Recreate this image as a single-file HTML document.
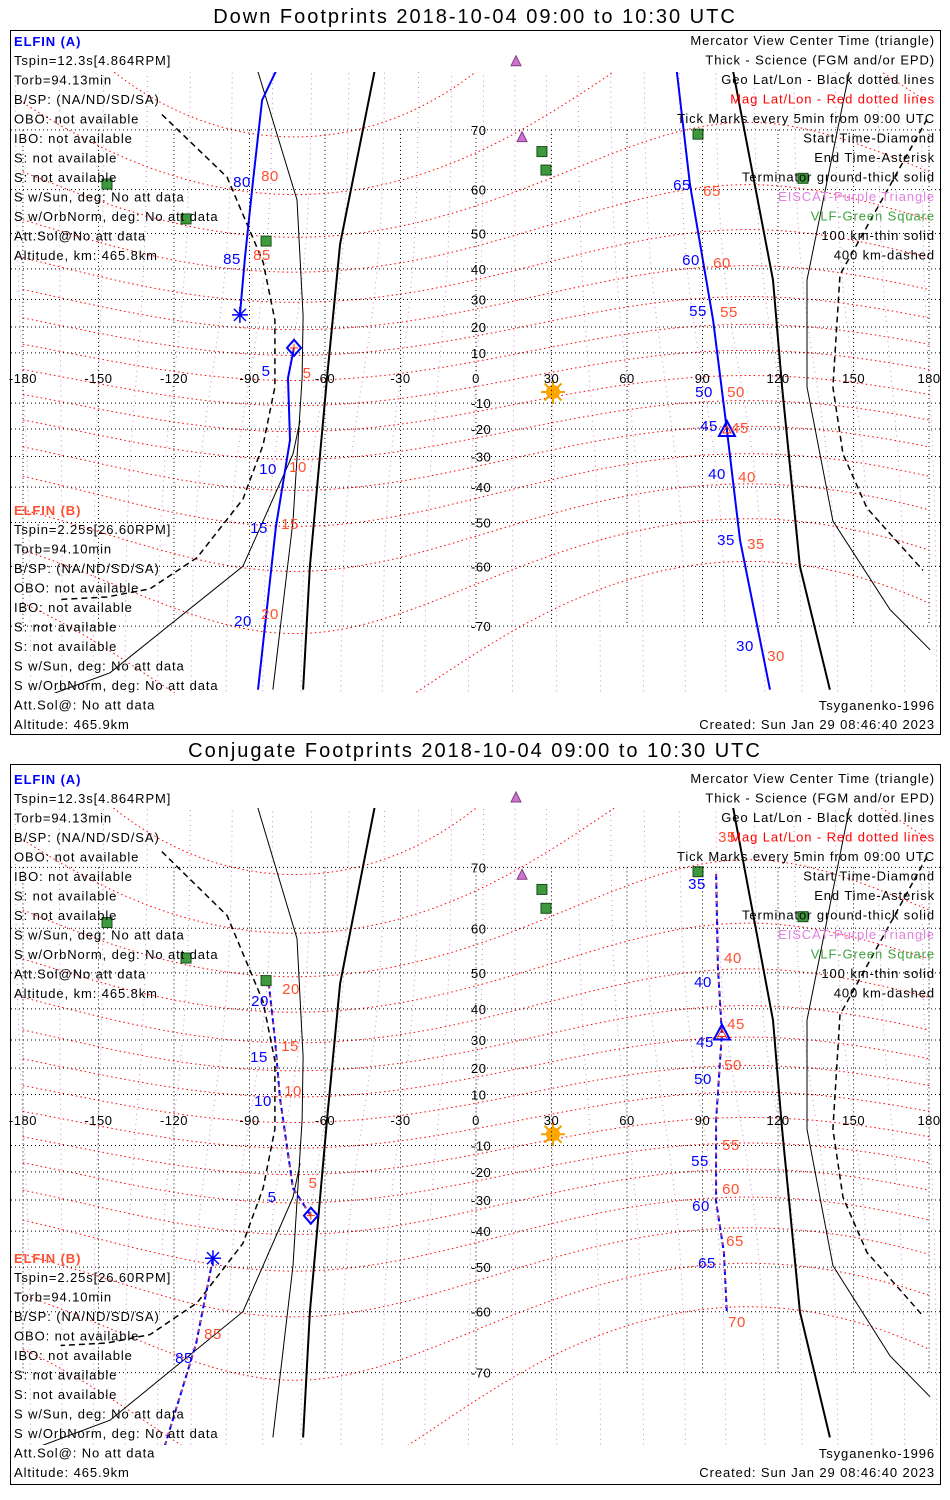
<!DOCTYPE html>
<html><head><meta charset="utf-8">
<style>
html,body{margin:0;padding:0;background:#fff;}
svg{display:block;font-family:"Liberation Sans",sans-serif;}
.t{font-size:13px;fill:#000;}
</style></head>
<body>
<svg id="root" width="950" height="1500" viewBox="0 0 950 1500" xmlns="http://www.w3.org/2000/svg">
<defs>
<clipPath id="clipTop"><rect x="11" y="72" width="929" height="621"/></clipPath>
<clipPath id="clipBot"><rect x="11" y="808" width="929" height="637"/></clipPath>
</defs>
<text x="475" y="23" text-anchor="middle" font-size="20" letter-spacing="2">Down Footprints 2018-10-04 09:00 to 10:30 UTC</text>
<rect x="10.5" y="30.5" width="930" height="704" fill="none" stroke="#000"/>
<text x="475" y="757" text-anchor="middle" font-size="20" letter-spacing="2">Conjugate Footprints 2018-10-04 09:00 to 10:30 UTC</text>
<rect x="10.5" y="764.5" width="930" height="720" fill="none" stroke="#000"/>
<g id="topMap" clip-path="url(#clipTop)"></g>
<g id="botMap" clip-path="url(#clipBot)"></g>
<g id="topGrid"></g>
<g id="botGrid"></g>
<g id="texts"></g>
</svg>
<script>
// ---- data ----
const lonTicks=[-180,-150,-120,-90,-60,-30,0,30,60,90,120,150,180];
const latTicks=[-70,-60,-50,-40,-30,-20,-10,10,20,30,40,50,60,70];
const magLats=[-70,-60,-50,-40,-30,-20,-10,0,10,20,30,40,50,60,70,80];
// top panel tracks (lon, lat)
const topA1Lon=[-79,-85,-88.6,-91.8,-93.8];
const topA1Lat=[76.9,73.7,61.7,43.2,24.5];
const topA2Lon=[-72.3,-74.7,-73.9,-79.5,-86.6];
const topA2Lat=[12.0,0,-24.1,-51.1,-77.1];
const topB1Lon=[79.5,85,94.2,99.7,104.9,116.8];
const topB1Lat=[77.2,61.1,22.6,-20.4,-54.3,-77.1];
// bottom panel tracks
const botA1Lon=[-65.6,-72.7,-77.9,-79.9,-82.6];
const botA1Lat=[-35.2,-25.9,8.8,30.5,48.8];
const botA2Lon=[-104.5,-111.2,-123.6];
const botA2Lat=[-47.7,-65.7,-77.8];
const botB1Lon=[95.4,96.1,97.7,95.4,95.4,98.5,99.7];
const botB1Lat=[69.1,51.4,32.2,0,-30.5,-46.1,-60.4];
// stations
const vlfLon=[-146.6,-115.2,-83.4,26.2,27.8,88.2,129.9];
const vlfLat=[61.1,53.6,48.0,66.8,63.7,69.4,62.2];
const eiscatLon=[15.9,18.3];
const eiscatLat=[77.5,68.9];
const sunLon=[30.6], sunLat=[-5.6];
// terminator curves
const term100LLon=[-87,-71.1,-68.7,-69.1,-72.7,-80.7];
const term100LLat=[76.9,57.9,24.1,0,-49.6,-77.1];
const termArcLon=[-69.9,-72.7,-92.6,-145.4,-175];
const termArcLat=[-16.8,-29.1,-60,-75.5,-78];
const termGLLon=[-40.1,-54,-59.2,-66,-68.7];
const termGLLat=[76.9,47.2,0,-60,-77.1];
const term400LLon=[-124.8,-98.9,-84.6,-79.9,-79.9,-84.6,-92.6,-110.8,-129.5,-146.6,-165];
const term400LLat=[72,62.4,42.1,22.6,-3.6,-25.9,-43.6,-58.2,-64.2,-65.6,-66];
const termGRLon=[102.1,118,121.6,128.7,140.6];
const termGRLat=[76.7,36.5,-3.6,-60,-77.1];
const term100RLon=[148.6,131.5,131.5,141.8,164.5,180.4];
const term100RLat=[76.9,36.5,-3.6,-49.6,-67.6,-73];
const term400RLon=[179.2,144.6,141.8,145.8,155.3,177.6];
const term400RLat=[71.4,38.2,-3.6,-29.1,-46.1,-60.8];

const NS='http://www.w3.org/2000/svg';
function mk(tag,attrs,parent){const e=document.createElementNS(NS,tag);for(const k in attrs)e.setAttribute(k,attrs[k]);parent.appendChild(e);return e;}

function panel(g,gg,P){
  const X=lon=>476+lon*2.517;
  const Y=lat=>P.cy-P.k*Math.log(Math.tan(Math.PI/4+lat*Math.PI/360));
  // pink mag meridians
  for(let m=-180;m<=180;m+=15){
    let d='';
    for(let lat=-80;lat<=80;lat+=4){const lon=m+10*Math.sin(lat*Math.PI/180)*Math.cos((m+72)*Math.PI/180);d+=(d?'L':'M')+X(lon).toFixed(1)+','+Y(lat).toFixed(1);}
    const p=mk('path',{d:d,fill:'none',stroke:'#e080e0','stroke-width':1,'stroke-dasharray':'1,4'},g);
    
    
  }
  // mag lat lines
  magLats.forEach(m=>{let d='';
    for(let lon=-180;lon<=180;lon+=5){let lat=m-11*Math.cos((lon+72)*Math.PI/180);if(lat>82)lat=82;if(lat<-82)lat=-82;d+=(d?'L':'M')+X(lon).toFixed(1)+','+Y(lat).toFixed(1);}
    const p=mk('path',{d:d,fill:'none',stroke:'#ff0000','stroke-dasharray':'1.5,3'},g);
    });
  // geo grid
  lonTicks.forEach(l=>{const ln=mk('line',{x1:X(l),x2:X(l),y1:Y(70),y2:Y(-70),stroke:'#000','stroke-dasharray':'1,3'},gg);
    });
  latTicks.forEach(l=>{const ln=mk('line',{x1:11,x2:940,y1:Y(l),y2:Y(l),stroke:'#000','stroke-dasharray':'1,3'},gg);
    });
  lonTicks.forEach(l=>{const t=mk('text',{x:X(l),y:P.cy+5,'text-anchor':'middle',class:'t','letter-spacing':'0.5'},gg);t.textContent=l;
    });
  latTicks.forEach(l=>{const t=mk('text',{x:l<0?471:471,y:Y(l)+5,class:'t','letter-spacing':'0.5'},gg);t.textContent=l;
    });
  const line=(lons,lats,attrs,name)=>{let d='';lons.forEach((l,i)=>{d+=(i?'L':'M')+X(l).toFixed(1)+','+Y(lats[i]).toFixed(1);});
    attrs.d=d;attrs.fill='none';const p=mk('path',attrs,g);return p;};
  line(term100LLon,term100LLat,{stroke:'#000','stroke-width':1},'terminator-100km-left');
  line(termArcLon,termArcLat,{stroke:'#000','stroke-width':1},'terminator-100km-arc');
  line(termGLLon,termGLLat,{stroke:'#000','stroke-width':2},'terminator-ground-left');
  line(term400LLon,term400LLat,{stroke:'#000','stroke-width':1.5,'stroke-dasharray':'6,4'},'terminator-400km-left');
  line(term100RLon,term100RLat,{stroke:'#000','stroke-width':1},'terminator-100km-right');
  line(termGRLon,termGRLat,{stroke:'#000','stroke-width':2},'terminator-ground-right');
  line(term400RLon,term400RLat,{stroke:'#000','stroke-width':1.5,'stroke-dasharray':'6,4'},'terminator-400km-right');
  P.tracks.forEach(tr=>{
    line(tr[0],tr[1],{stroke:'#0000ff','stroke-width':2,'stroke-dasharray':tr[2]?'6,3':'none'},'elfin-track');
    if(tr[2])line(tr[0],tr[1],{stroke:'#ff5030','stroke-width':1,'stroke-dasharray':'3,6'},'elfin-track-b');
  });
  vlfLon.forEach((l,i)=>{const r=mk('rect',{x:X(l)-5,y:Y(vlfLat[i])-5,width:10,height:10,fill:'#3c9a3c',stroke:'#1b4d1b'},g);
    });
  eiscatLon.forEach((l,i)=>{const x=X(l),y=Y(eiscatLat[i]);const p=mk('polygon',{points:`${x},${y-6} ${x-5},${y+4} ${x+5},${y+4}`,fill:'#d070d0',stroke:'#804080'},gg);
    });
  const sx=X(sunLon[0]),sy=Y(sunLat[0]);
  const sg=mk('g',{},g);
  for(let a=0;a<360;a+=45){const r=a*Math.PI/180;mk('line',{x1:sx,y1:sy,x2:sx+12*Math.cos(r),y2:sy+12*Math.sin(r),stroke:'#f0a000','stroke-width':2},sg);}
  mk('circle',{cx:sx,cy:sy,r:7,fill:'#ffa500'},sg);
  P.marks.forEach(mm=>{const x=X(mm[1]),y=Y(mm[2]);const mg=mk('g',{},gg);
    if(mm[0]==='d'){mk('polygon',{points:`${x},${y-8} ${x+7},${y} ${x},${y+8} ${x-7},${y}`,fill:'none',stroke:'#0000ff','stroke-width':2},mg);mk('path',{d:`M${x-4},${y}H${x+4}M${x},${y-4}V${y+4}`,stroke:'#ff3000'},mg);}
    else if(mm[0]==='a'){mk('path',{d:`M${x-8},${y}H${x+8}M${x},${y-8}V${y+8}M${x-6},${y-6}L${x+6},${y+6}M${x-6},${y+6}L${x+6},${y-6}`,stroke:'#0000ff','stroke-width':1.5},mg);}
    else {mk('polygon',{points:`${x},${y-9} ${x-8},${y+6} ${x+8},${y+6}`,fill:'none',stroke:'#0000ff','stroke-width':2},mg);mk('polygon',{points:`${x},${y-4} ${x-4},${y+3} ${x+4},${y+3}`,fill:'none',stroke:'#ff3000'},mg);}
    });
}
panel(document.getElementById('topMap'),document.getElementById('topGrid'),{cy:378,k:143,
  tracks:[[topA1Lon,topA1Lat,false],[topA2Lon,topA2Lat,false],[topB1Lon,topB1Lat,false]],
  marks:[['a',-93.8,24.5],['d',-72.3,12.0],['t',99.7,-20.4]]});
panel(document.getElementById('botMap'),document.getElementById('botGrid'),{cy:1120,k:145.6,
  tracks:[[botA1Lon,botA1Lat,true],[botA2Lon,botA2Lat,true],[botB1Lon,botB1Lat,true]],
  marks:[['a',-104.5,-47.7],['d',-65.6,-35.2],['t',97.7,32.2]]});

// ---- text blocks ----
const T=document.getElementById('texts');
function txt(x,y,s,col,anchor,name,size,bold,ls){const t=mk('text',{x:x,y:y,fill:col||'#000','font-size':size||13,'text-anchor':anchor||'start','letter-spacing':ls===undefined?'0.9':ls},T);
  if(bold)t.setAttribute('font-weight','bold');t.textContent=s;
  return t;}
const leftA=["Tspin=12.3s[4.864RPM]","Torb=94.13min","B/SP: (NA/ND/SD/SA)","OBO: not available","IBO: not available","S: not available","S: not available","S w/Sun, deg: No att data","S w/OrbNorm, deg: No att data","Att.Sol@No att data","Altitude, km: 465.8km"];
const leftB=["Tspin=2.25s[26.60RPM]","Torb=94.10min","B/SP: (NA/ND/SD/SA)","OBO: not available","IBO: not available","S: not available","S: not available","S w/Sun, deg: No att data","S w/OrbNorm, deg: No att data","Att.Sol@: No att data","Altitude: 465.9km"];
const right=[["Mercator View Center Time (triangle)","#000"],["Thick - Science (FGM and/or EPD)","#000"],["Geo Lat/Lon - Black dotted lines","#000"],["Mag Lat/Lon - Red dotted lines","#ff0000"],["Tick Marks every 5min from 09:00 UTC","#000"],["Start Time-Diamond","#000"],["End Time-Asterisk","#000"],["Terminator ground-thick solid","#000"],["EISCAT-Purple Triangle","#e080e0"],["VLF-Green Square","#40a040"],["100 km-thin solid","#000"],["400 km-dashed","#000"]];
[[0,0],[738,748]].forEach(([oa,ob])=>{
  txt(14,46+oa,"ELFIN (A)","#0000ff","start","elfin-a-heading",13,true);
  leftA.forEach((s,i)=>txt(14,65+oa+i*19.5,s,"#000","start","elfin-a-info"));
  txt(14,515+ob,"ELFIN (B)","#ff5030","start","elfin-b-heading",13,true);
  leftB.forEach((s,i)=>txt(14,534+ob+i*19.5,s,"#000","start","elfin-b-info"));
  right.forEach((r,i)=>txt(935,45+oa+i*19.5,r[0],r[1],"end","legend-entry"));
  txt(935,710+ob,"Tsyganenko-1996","#000","end","model-label");
  txt(935,729+ob,"Created: Sun Jan 29 08:46:40 2023","#000","end","created-label");
});
// minute labels
const blueTop=[["80",242,181],["85",232,258],["5",266,370],["10",268,468],["15",259,527],["20",243,620],["65",682,184],["60",691,259],["55",698,310],["50",704,391],["45",709,425],["40",717,473],["35",726,539],["30",745,645]];
const redTop=[["80",270,175],["85",262,254],["5",307,372],["10",298,466],["15",290,523],["20",270,613],["65",712,190],["60",722,262],["55",729,311],["50",736,391],["45",740,427],["40",747,476],["35",756,543],["30",776,655]];
const blueBot=[["20",260,1000],["15",259,1056],["10",263,1100],["5",272,1196],["35",697,883],["40",703,981],["45",705,1041],["50",703,1078],["55",700,1160],["60",701,1205],["65",707,1262],["85",184,1357]];
const redBot=[["20",291,988],["15",290,1045],["10",293,1090],["5",313,1182],["35",727,836],["40",733,957],["45",736,1023],["50",733,1064],["55",731,1144],["60",731,1188],["65",735,1240],["70",737,1321],["85",213,1333]];
blueTop.concat(blueBot).forEach(l=>txt(l[1],l[2]+6,l[0],"#0000ff","middle","tick-label-a",15,false,'0.5'));
redTop.concat(redBot).forEach(l=>txt(l[1],l[2]+6,l[0],"#ff5030","middle","tick-label-b",15,false,'0.5'));
</script>
</body></html>
